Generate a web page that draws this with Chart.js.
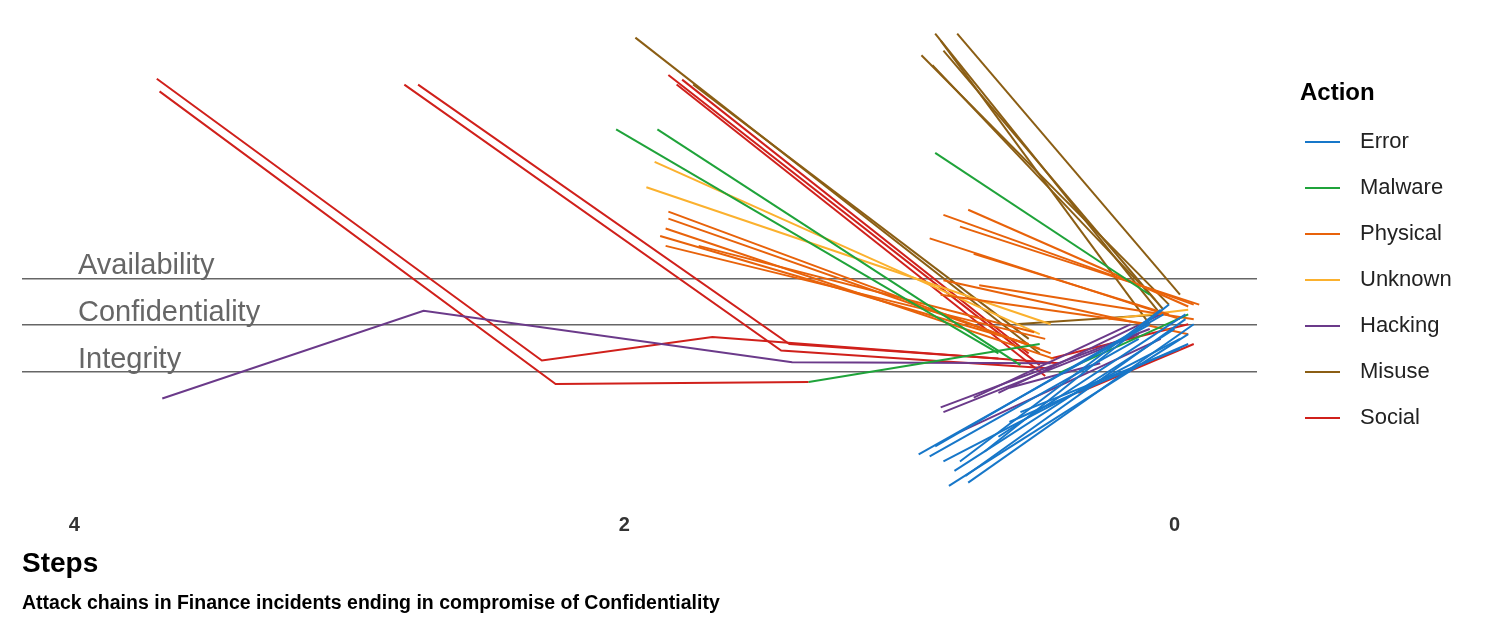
<!DOCTYPE html>
<html>
<head>
<meta charset="utf-8">
<script src="https://cdn.jsdelivr.net/npm/chart.js@4/dist/chart.umd.min.js"></script>
<style>
  html, body { margin: 0; padding: 0; background: #fff; }
  #wrap { width: 1488px; height: 633px; }
</style>
</head>
<body>
<div id="wrap"><canvas id="chart"></canvas></div>
<script>
// Each chain segment: list of [step, level] points
// level: 1 = Integrity, 2 = Confidentiality, 3 = Availability
const levelNames = ["Integrity", "Confidentiality", "Availability"];
const stepTicks = [4, 2, 0];

const actions = ["Error", "Malware", "Physical", "Unknown", "Hacking", "Misuse", "Social"];
const actionColors = ["#1777c9", "#1fa33a", "#e8620a", "#fbb12e", "#6b3a8a", "#8b5e14", "#d0201b"];

const errorChains = [
  [[0.93, -0.75], [0.09, 2.02]], [[0.87, -0.58], [0.04, 2.23]], [[0.84, -0.9], [-0.02, 1.71]],
  [[0.80, -1.1], [0, 1.92]], [[0.82, -1.42], [-0.05, 1.81]], [[0.76, -1.21], [-0.04, 2.13]],
  [[0.75, -1.35], [-0.07, 2.02]], [[0.78, -0.9], [0.05, 2.33]], [[0.89, -0.79], [0.13, 1.71]],
  [[0.69, -0.69], [0.02, 2.44]], [[0.64, -0.375], [-0.04, 2.23]], [[0.6, -0.06], [-0.05, 1.6]],
  [[0.56, 0.15], [-0.02, 1.5]]
];
const malwareChains = [
  [[2.03, 6.17], [0.64, 1.40]], [[1.88, 6.17], [0.56, 1.15]], [[0.87, 5.67], [0.09, 2.65]],
  [[1.33, 0.79], [0.49, 1.60]], [[0.42, 0.98], [-0.05, 2.23]]
];
const physicalChains = [
  [[1.84, 4.42], [0.45, 1.40]], [[1.84, 4.27], [0.49, 1.5]], [[1.85, 4.06], [0.44, 1.29]],
  [[1.87, 3.90], [0.53, 1.60]], [[1.85, 3.69], [0.47, 1.71]], [[1.73, 3.69], [0.51, 1.85]],
  [[0.75, 4.46], [-0.05, 2.40]], [[0.84, 4.35], [-0.07, 2.44]], [[0.89, 3.85], [-0.02, 2.13]],
  [[0.78, 4.1], [-0.09, 2.44]], [[0.73, 3.52], [0.02, 2.23]], [[0.84, 2.96], [-0.05, 1.81]],
  [[0.71, 2.85], [-0.07, 2.13]], [[0.85, 2.65], [0.09, 2.02]]
];
const unknownChains = [
  [[1.89, 5.48], [0.49, 1.81]], [[1.92, 4.94], [0.45, 2.02]], [[0.24, 2.13], [-0.05, 2.33]]
];
const hackingChains = [
  [[3.68, 0.44], [2.73, 2.31], [1.39, 1.21], [0.45, 1.19]],
  [[0.85, 0.25], [0.09, 1.92]], [[0.84, 0.15], [0.13, 1.81]], [[0.78, -0.27], [0.05, 1.71]],
  [[0.73, 0.46], [0.16, 2.02]], [[0.64, 0.56], [0.05, 2.23]], [[0.6, 0.67], [0.27, 1.19]]
];
const misuseChains = [
  [[1.96, 8.125], [0.49, 1.4]], [[1.75, 7.125], [0.53, 1.71]], [[0.87, 8.21], [0.05, 2.23]],
  [[0.92, 7.75], [0.02, 2.44]], [[0.85, 8.06], [0.09, 2.02]], [[0.79, 8.21], [-0.02, 2.65]],
  [[0.84, 7.85], [0.04, 2.33]], [[0.88, 7.54], [0.07, 2.54]], [[0.58, 2.02], [0.05, 2.23]]
];
const socialChains = [
  [[3.70, 7.25], [2.30, 1.25], [1.68, 1.75], [0.42, 1.19]],
  [[3.69, 6.98], [2.25, 0.75], [1.33, 0.79]],
  [[2.80, 7.125], [1.43, 1.46], [0.45, 1.08]],
  [[2.75, 7.125], [1.40, 1.60], [0.64, 1.29]],
  [[1.84, 7.33], [0.49, 1.15]], [[1.81, 7.125], [0.47, 0.92]], [[1.79, 7.23], [0.53, 1.40]],
  [[0.35, 0.56], [-0.07, 1.6]], [[0.45, 1.29], [-0.05, 2.02]]
];
const chainsByAction = [errorChains, malwareChains, physicalChains, unknownChains, hackingChains, misuseChains, socialChains];

const datasets = [];
chainsByAction.forEach((chains, i) => {
  chains.forEach(c => datasets.push({
    label: actions[i],
    data: c.map(p => ({ x: p[0], y: p[1] })),
    borderColor: actionColors[i],
    borderWidth: 2,
    pointRadius: 0,
    fill: false
  }));
});

const font = "'Liberation Sans', Arial, sans-serif";
const overlay = {
  id: "overlay",
  afterDraw(chart) {
    const ctx = chart.ctx, y = chart.scales.y, x = chart.scales.x;
    ctx.save();
    ctx.fillStyle = "#666";
    ctx.font = "29px " + font;
    ctx.textBaseline = "bottom";
    levelNames.forEach((n, i) => ctx.fillText(n, x.left + 56, y.getPixelForValue(i + 1) + 2));
    // axis title and caption
    ctx.fillStyle = "#000";
    ctx.textBaseline = "middle";
    ctx.font = "bold 28px " + font;
    ctx.fillText("Steps", 22, 564);
    ctx.font = "bold 19.5px " + font;
    ctx.fillText("Attack chains in Finance incidents ending in compromise of Confidentiality", 22, 604);
    // legend
    ctx.font = "bold 24px " + font;
    ctx.fillText("Action", 1300, 93);
    ctx.font = "22px " + font;
    actions.forEach((a, i) => {
      const yy = 142 + i * 46;
      ctx.strokeStyle = actionColors[i];
      ctx.lineWidth = 2;
      ctx.beginPath(); ctx.moveTo(1305, yy); ctx.lineTo(1340, yy); ctx.stroke();
      ctx.fillStyle = "#222";
      ctx.fillText(a, 1360, yy);
    });
    ctx.restore();
  }
};

new Chart(document.getElementById("chart"), {
  type: "line",
  data: { datasets },
  plugins: [overlay],
  options: {
    responsive: true,
    maintainAspectRatio: false,
    animation: false,
    layout: { padding: { left: 22, right: 231, top: 20, bottom: 90 } },
    plugins: {
      legend: { display: false },
      tooltip: { enabled: false }
    },
    scales: {
      x: {
        type: "linear", reverse: true, min: -0.3, max: 4.19,
        afterBuildTicks: s => { s.ticks = stepTicks.map(v => ({ value: v })); },
        grid: { display: false }, border: { display: false },
        ticks: { color: "#333", font: { size: 20, weight: "bold", family: font }, padding: 6 }
      },
      y: {
        type: "linear", min: -1.7, max: 8.5,
        afterBuildTicks: s => { s.ticks = [1, 2, 3].map(v => ({ value: v })); },
        grid: { color: "#666", lineWidth: 1.5, drawTicks: false }, border: { display: false },
        ticks: { display: false }
      }
    }
  }
});
</script>
</body>
</html>
